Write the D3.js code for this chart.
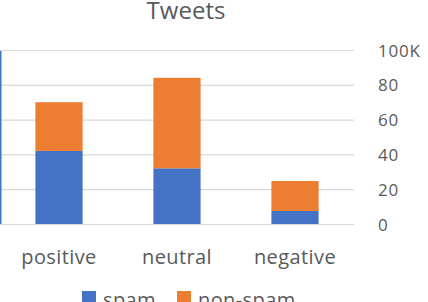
<!DOCTYPE html>
<html><head><meta charset="utf-8">
<script src="https://cdn.jsdelivr.net/npm/d3@7"></script>
<style>body{margin:0;background:#fff}svg{display:block}text{font-family:"Open Sans",sans-serif;fill:#595959}</style>
</head><body><div id="c"></div>
<script>
const categories = ["positive","neutral","negative"];
const seriesNames = ["spam","non-spam"];
const spam = [42, 32, 7.5];
const nonSpam = [28, 52, 17.2];
const tickValues = [0,20,40,60,80,100];
const tickLabels = ["0","20","40","60","80","100K"];
const colors = ["#4472C4","#ED7D31"];

const W=428,H=302;
const svg=d3.select("#c").append("svg").attr("width",W).attr("height",H);
const x=d3.scaleBand().domain(categories).range([0,354]).paddingInner(0.6).paddingOuter(0.3);
const y=d3.scaleLinear().domain([0,100]).range([224,50]);

// gridlines
svg.append("g").selectAll("line").data(tickValues).join("line")
  .attr("x1",0).attr("x2",354).attr("y1",d=>y(d)+0.5).attr("y2",d=>y(d)+0.5)
  .attr("stroke","#D9D9D9").attr("stroke-width",1.2);

// right axis labels
svg.append("g").selectAll("text").data(tickValues).join("text")
  .attr("x",378).attr("y",d=>y(d)+6.5)
  .attr("font-size",17).attr("letter-spacing",0.8).text((d,i)=>tickLabels[i]);

const rows=categories.map((c,i)=>({cat:c,spam:spam[i],"non-spam":nonSpam[i]}));
const stack=d3.stack().keys(seriesNames)(rows);
svg.append("g").selectAll("g").data(stack).join("g").attr("fill",(d,i)=>colors[i])
  .selectAll("rect").data(d=>d).join("rect")
  .attr("x",d=>x(d.data.cat)).attr("width",x.bandwidth())
  .attr("y",d=>y(d[1])).attr("height",d=>y(d[0])-y(d[1]));

// left edge blue stub (clipped element)
svg.append("rect").attr("x",0).attr("y",y(99.5)).attr("width",1.5).attr("height",y(0)-y(99.5)).attr("fill",colors[0]);

// category labels
svg.append("g").selectAll("text").data(categories).join("text")
  .attr("x",d=>x(d)+x.bandwidth()/2).attr("y",264).attr("text-anchor","middle")
  .attr("font-size",20).attr("letter-spacing",0.4).text(d=>d);

// title
svg.append("text").attr("x",186).attr("y",18.5).attr("text-anchor","middle").attr("font-size",24).text("Tweets");

// legend
const lg=svg.append("g");
const lx=[82,177];
seriesNames.forEach((s,i)=>{
  lg.append("rect").attr("x",lx[i]).attr("y",291).attr("width",14).attr("height",14).attr("fill",colors[i]);
  lg.append("text").attr("x",lx[i]+21).attr("y",307).attr("font-size",20).attr("letter-spacing",0.4).text(s);
});
</script></body></html>
